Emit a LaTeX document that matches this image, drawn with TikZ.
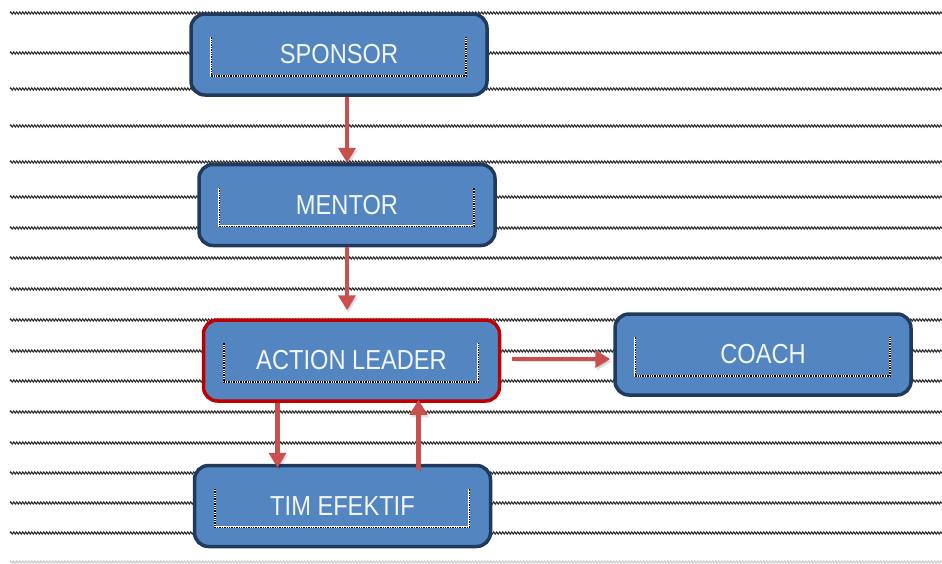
\documentclass[tikz,border=0pt]{standalone}
\usepackage{fontspec}
\newfontfamily\boxfont[FakeStretch=0.86]{Liberation Sans}
\usetikzlibrary{arrows.meta,decorations.pathmorphing}
\definecolor{boxblue}{HTML}{5386C0}
\definecolor{boxline}{HTML}{1F3A5C}
\definecolor{leadline}{HTML}{C00000}
\definecolor{arrred}{HTML}{C9504E}
\definecolor{textwhite}{HTML}{F2F5FA}
\begin{document}
\begin{tikzpicture}[x=1pt, y=-1pt,
		main node/.style={rectangle,rounded corners=14pt,draw=boxline,line width=3.5pt,fill=boxblue,
			minimum width=296pt,minimum height=81pt,text=textwhite,font=\boxfont\fontsize{27.5}{30}\selectfont},
		ruled/.style={gray!35!black,line width=1.1pt,decorate,decoration={zigzag,segment length=3pt,amplitude=1.1pt}},
		dotline/.style={white,line width=1.8pt,postaction={draw=black,line width=1.5pt,dash pattern=on 1.4pt off 1pt}},
		arr/.style={arrred,line width=4.2pt,-{Triangle[width=17pt,length=15pt]},
			preaction={draw=black,opacity=0.12,transform canvas={shift={(1.5pt,-2.5pt)}}}}]
	\useasboundingbox (0,0) rectangle (942,563);
	
	% ruled lines
	\foreach \y in {13,53,89,126,162,197,228,258,289,320,351,381,412,443,473,503,533}
		\draw[ruled] (10,\y) -- (942,\y);
	\draw[ruled,gray!40] (10,562) -- (942,562);
	
	\node[main node] (spon) at (339,54.5) {SPONSOR};
	\node[main node] (ment) at (347,205) {MENTOR};
	\node[main node,draw=leadline] (lead) at (351.5,360.5) {ACTION LEADER};
	\node[main node] (coach) at (763,354.5) {COACH};
	\node[main node] (tim) at (342.5,506) {TIM EFEKTIF};
	
	\foreach \n in {spon,ment,lead,coach,tim}
		\draw[dotline] ([shift={(22,25)}]\n.north west) -- ([shift={(22,-21)}]\n.south west)
			-- ([shift={(-23,-21)}]\n.south east) -- ([shift={(-23,25)}]\n.north east);
	
	\draw[arr] (spon.south -| ment.north) -- (ment.north);
	\draw[arr] (ment.south) -- ([yshift=8pt]lead.north -| ment.south);
	\draw[arr] ([xshift=11pt,yshift=1.5pt]lead.east) -- ([xshift=-3pt,yshift=1.5pt]coach.west |- lead.east);
	\draw[arr] ([xshift=-74pt]lead.south) -- ([xshift=-74pt,yshift=-4pt]lead.south |- tim.north);
	\draw[arr] ([xshift=67pt,yshift=-6pt]lead.south |- tim.north) -- ([xshift=67pt,yshift=3pt]lead.south);
\end{tikzpicture}
\end{document}
